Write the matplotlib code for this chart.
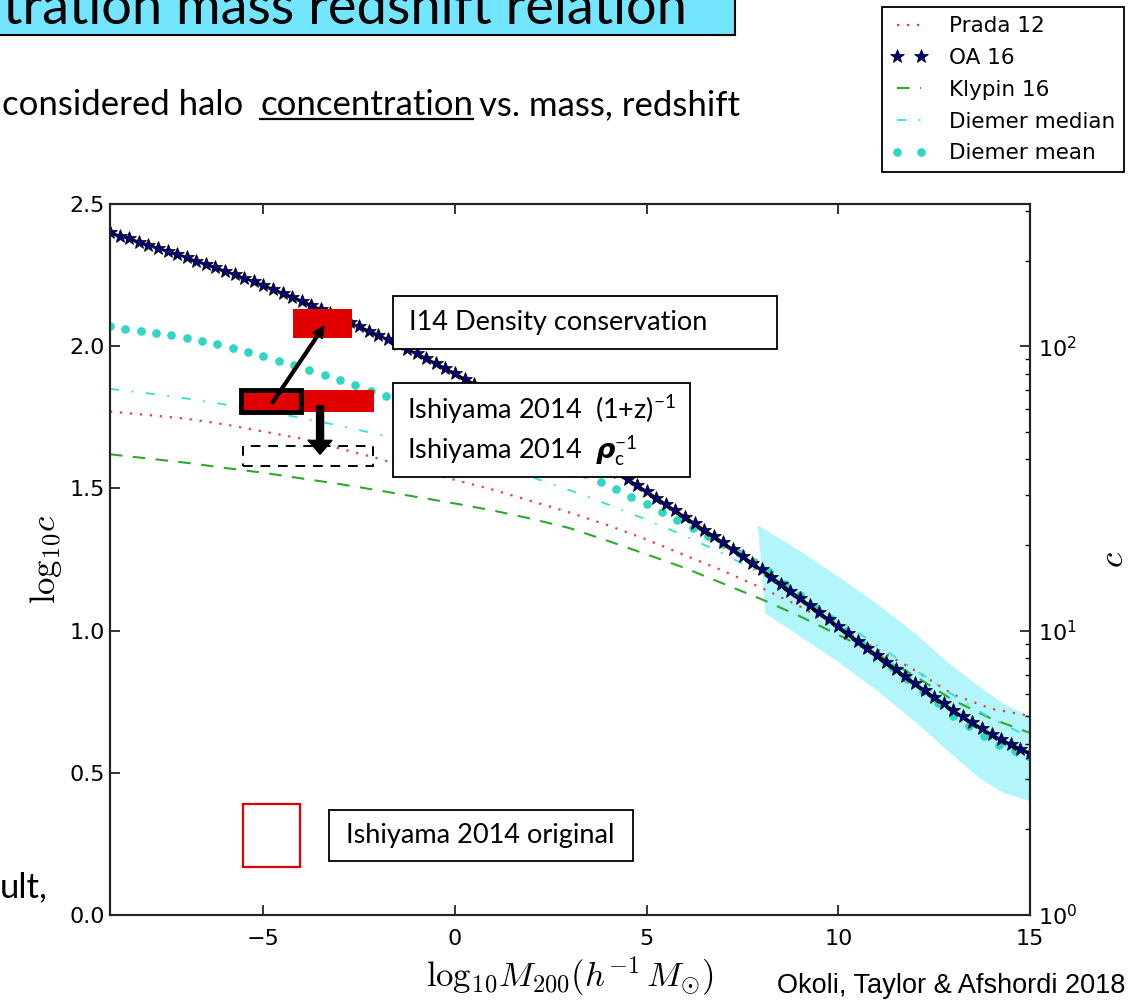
import numpy as np
import matplotlib
matplotlib.use("Agg")
import matplotlib.pyplot as plt
from matplotlib.patches import Rectangle
from matplotlib.lines import Line2D

plt.rcParams['mathtext.fontset'] = 'cm'
plt.rcParams['mathtext.rm'] = 'Lato'
plt.rcParams['mathtext.it'] = 'Lato:italic'
plt.rcParams['mathtext.bf'] = 'DejaVu Sans:italic:bold'

# log10 M200 grids
mass = np.arange(-9, 15.01, 1.0)
mass_oa = np.arange(-9, 15.01, 0.25)
mass_dmean = np.arange(-9, 15.01, 0.4)

# log10 c
prada12 = [1.770, 1.758, 1.745, 1.725, 1.700, 1.675, 1.640, 1.605, 1.565, 1.530,
           1.495, 1.455, 1.415, 1.370, 1.320, 1.265, 1.210, 1.150, 1.085, 1.010,
           0.935, 0.860, 0.775, 0.725, 0.700]
klypin16 = [1.620, 1.605, 1.590, 1.572, 1.555, 1.535, 1.515, 1.493, 1.470, 1.447,
            1.422, 1.393, 1.360, 1.315, 1.268, 1.220, 1.165, 1.110, 1.050, 0.985,
            0.918, 0.840, 0.755, 0.690, 0.640]
diemer_median = [1.850, 1.834, 1.816, 1.795, 1.772, 1.748, 1.720, 1.690, 1.656, 1.620,
                 1.582, 1.540, 1.493, 1.443, 1.390, 1.333, 1.270, 1.200, 1.120, 1.038,
                 0.950, 0.862, 0.773, 0.690, 0.625]
oa16 = [2.400, 2.389, 2.379, 2.368, 2.357, 2.346, 2.335, 2.323, 2.312, 2.300,
        2.289, 2.277, 2.265, 2.253, 2.240, 2.228, 2.215, 2.201, 2.188, 2.174,
        2.160, 2.145, 2.130, 2.115, 2.100, 2.085, 2.070, 2.055, 2.040, 2.024,
        2.008, 1.991, 1.975, 1.958, 1.940, 1.923, 1.905, 1.886, 1.868, 1.849,
        1.830, 1.810, 1.790, 1.770, 1.750, 1.729, 1.708, 1.686, 1.665, 1.643,
        1.622, 1.600, 1.578, 1.556, 1.534, 1.512, 1.490, 1.468, 1.445, 1.423,
        1.400, 1.378, 1.355, 1.333, 1.310, 1.286, 1.263, 1.239, 1.215, 1.190,
        1.165, 1.140, 1.115, 1.090, 1.065, 1.040, 1.015, 0.990, 0.965, 0.940,
        0.915, 0.890, 0.865, 0.840, 0.815, 0.791, 0.767, 0.744, 0.720, 0.698,
        0.677, 0.656, 0.635, 0.618, 0.601, 0.585, 0.570]
diemer_mean = [2.070, 2.062, 2.054, 2.046, 2.038, 2.030, 2.018, 2.006, 1.993, 1.979,
               1.965, 1.949, 1.933, 1.916, 1.898, 1.880, 1.862, 1.844, 1.826, 1.808,
               1.790, 1.770, 1.750, 1.730, 1.710, 1.690, 1.668, 1.646, 1.623, 1.599,
               1.575, 1.549, 1.523, 1.497, 1.471, 1.445, 1.417, 1.389, 1.361, 1.333,
               1.305, 1.273, 1.241, 1.205, 1.165, 1.125, 1.083, 1.041, 0.999, 0.957,
               0.915, 0.873, 0.831, 0.788, 0.744, 0.700, 0.664, 0.628, 0.599, 0.577,
               0.555]

# scatter band
band_hi_mass = [7.9, 9.0, 10.0, 11.0, 12.0, 12.8, 13.7, 14.4, 15.0]
band_hi = [1.37, 1.28, 1.19, 1.095, 0.99, 0.895, 0.80, 0.735, 0.70]
band_lo_mass = [8.1, 9.0, 10.0, 11.0, 12.0, 13.0, 13.7, 14.3, 15.0]
band_lo = [1.06, 0.98, 0.89, 0.79, 0.68, 0.56, 0.48, 0.43, 0.40]

# Ishiyama 2014 results: (mass range), (log c range)
i14_density = ((-4.22, -2.69), (2.03, 2.13))
i14_z = ((-5.57, -2.12), (1.77, 1.845))
i14_z_ref = ((-5.57, -4.02), (1.77, 1.845))
i14_rho = ((-5.52, -2.15), (1.58, 1.65))
i14_orig = ((-5.54, -4.04), (0.17, 0.39))

fig = plt.figure(figsize=(11.34, 10.05), dpi=100)
fig.patch.set_facecolor('white')
ax = fig.add_axes([110/1134, 90/1005, 920/1134, 711/1005])

band = ax.fill(band_hi_mass + band_lo_mass[::-1], band_hi + band_lo[::-1],
               color='#b2f5fa', lw=0, zorder=1)
l_prada, = ax.plot(mass, prada12, color='#f03a3a', ls=(0, (1, 3.5)), lw=1.6,
                   label='Prada 12', zorder=3)
l_kly, = ax.plot(mass, klypin16, color='#2ea82e', ls=(0, (6, 5)), lw=1.5,
                 label='Klypin 16', zorder=3)
l_dmed, = ax.plot(mass, diemer_median, color='#2ee0e0', ls=(0, (5, 7, 1, 7)), lw=1.3,
                  label='Diemer median', zorder=3)
l_dmean, = ax.plot(mass_dmean, diemer_mean, ls='None', marker='o', ms=6.2, mew=0,
                   color='#2fd6c4', label='Diemer mean', zorder=4)
ax.plot(mass_oa, oa16, color='black', lw=1.5, zorder=5)
l_oa, = ax.plot(mass_oa, oa16, ls='None', marker='*', ms=10.5, color='#00007a',
                mec='black', mew=0.5, label='OA 16', zorder=5)

# Ishiyama boxes
def add_box(rng, **kw):
    (x0, x1), (y0, y1) = rng
    ax.add_patch(Rectangle((x0, y0), x1 - x0, y1 - y0, **kw))

add_box(i14_density, fc='#e00000', ec='none', zorder=6)
add_box(i14_z, fc='#e00000', ec='none', zorder=6)
add_box(i14_z_ref, fc='none', ec='black', lw=3.5, zorder=7)
add_box(i14_rho, fc='none', ec='black', lw=1.4, ls=(0, (5, 4)), zorder=6)
add_box(i14_orig, fc='none', ec='#e00000', lw=1.6, zorder=6)

ax.annotate('', xy=(-3.42, 2.07), xytext=(-4.77, 1.80),
            arrowprops=dict(facecolor='black', edgecolor='black', width=2.0,
                            headwidth=8, headlength=8, shrink=0), zorder=8)
ax.annotate('', xy=(-3.52, 1.62), xytext=(-3.52, 1.79),
            arrowprops=dict(facecolor='black', edgecolor='black', width=5,
                            headwidth=17, headlength=10, shrink=0), zorder=8)

# label boxes
lab_font = dict(family='Lato', fontsize=19.5, zorder=10)
ax.add_patch(Rectangle((-1.606, 1.99), 9.996, 0.187, fc='white', ec='black', lw=1.3, zorder=9))
ax.text(2.69, 2.085, 'I14 Density conservation', ha='center', va='center', **lab_font)
ax.add_patch(Rectangle((-1.606, 1.54), 7.746, 0.331, fc='white', ec='black', lw=1.3, zorder=9))
ax.text(-1.24, 1.776, 'Ishiyama 2014  (1+z)$^{-1}$', ha='left', va='center',
        math_fontfamily='custom', **lab_font)
ax.text(-1.24, 1.632, r'Ishiyama 2014  $\mathbf{\rho}_{\mathrm{c}}^{-1}$', ha='left', va='center',
        math_fontfamily='custom', **lab_font)
ax.add_patch(Rectangle((-3.29, 0.19), 7.93, 0.179, fc='white', ec='black', lw=1.3, zorder=9))
ax.text(0.67, 0.278, 'Ishiyama 2014 original', ha='center', va='center', **lab_font)

ax.set_xlim(-9, 15)
ax.set_ylim(0, 2.5)
ax.set_xticks([-5, 0, 5, 10, 15])
ax.set_yticks([0.0, 0.5, 1.0, 1.5, 2.0, 2.5])
ax.set_yticklabels(['0.0', '0.5', '1.0', '1.5', '2.0', '2.5'])
ax.tick_params(axis='both', direction='in', length=7, width=1.1, labelsize=16, top=True)
ax.tick_params(axis='x', pad=10)
ax.set_xlabel(r'$\mathrm{log}_{10}M_{200}(h^{-1}\,M_{\odot})$', fontsize=25)
ax.set_ylabel(r'$\mathrm{log}_{10}c$', fontsize=25)

ax2 = ax.twinx()
ax2.set_yscale('log')
ax2.set_ylim(1, 10 ** 2.5)
ax2.tick_params(which='major', direction='in', length=7, width=1.1, labelsize=16, pad=6)
ax2.tick_params(which='minor', direction='in', length=3.5, width=1.0)
ax2.set_ylabel('$c$', fontsize=25, labelpad=13)

for a in (ax, ax2):
    for s in a.spines.values():
        s.set_linewidth(1.5)
        s.set_color('#222222')

fig.legend(handles=[l_prada, l_oa, l_kly, l_dmed, l_dmean], loc='upper right',
           bbox_to_anchor=(1124/1134, 1 - 7/1005), bbox_transform=fig.transFigure,
           borderaxespad=0, numpoints=2, fontsize=15.5, fancybox=False,
           edgecolor='black', framealpha=1, borderpad=0.42, labelspacing=0.55,
           handlelength=1.7, handletextpad=1.0).get_frame().set_linewidth(1.3)

# slide decorations
fig.add_artist(Rectangle((-0.01, 1 - 35/1005), 0.658, 0.1, transform=fig.transFigure,
                         fc='#73e5ff', ec='black', lw=1.5))
fig.text(3/1134, 1 - 24/1005, 'tration mass redshift relation', family='Lato',
         fontsize=39, va='baseline')
t1 = fig.text(0.002, 1 - 115/1005, 'considered halo', family='Lato', fontsize=25,
              va='baseline')
t2 = ax.annotate('concentration', xy=(1, 0), xycoords=t1, xytext=(12, 0),
                 textcoords='offset points', va='bottom', family='Lato', fontsize=25,
                 annotation_clip=False)
ax.annotate('vs. mass, redshift', xy=(1, 0), xycoords=t2, xytext=(4, 0),
            textcoords='offset points', va='bottom', family='Lato', fontsize=25,
            annotation_clip=False)
fig.text(0.0, 1 - 897/1005, 'ult,', family='Lato', fontsize=25, va='baseline')
fig.text(1125/1134, 1 - 993/1005, 'Okoli, Taylor & Afshordi 2018',
         family='Liberation Sans', fontsize=19.5, ha='right', va='baseline')

fig.canvas.draw()
bb = t2.get_window_extent(fig.canvas.get_renderer())
W, H = fig.bbox.width, fig.bbox.height
fig.add_artist(Line2D([bb.x0 / W, bb.x1 / W], [(bb.y0 + 2) / H] * 2,
                      transform=fig.transFigure, color='black', lw=1.6))

fig.savefig('out.png', dpi=100)
